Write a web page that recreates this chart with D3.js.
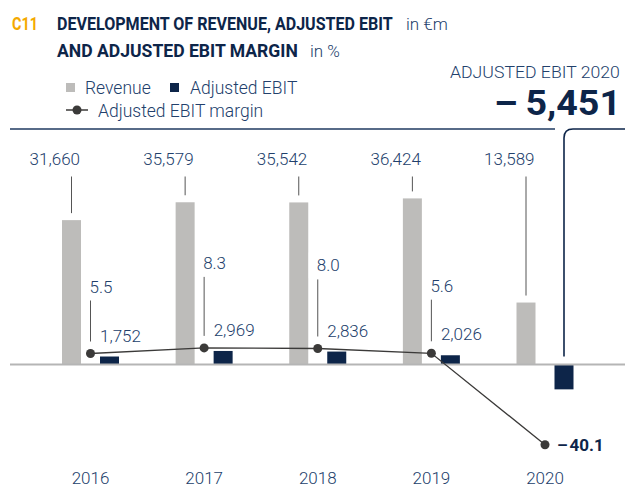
<!DOCTYPE html>
<html>
  <head>
    <meta charset="utf-8">
    <title>C11</title>
    <script src="https://d3js.org/d3.v7.min.js"></script>
    <style>
      body { margin: 0; background: #fff; font-family: Roboto, "Open Sans", sans-serif; }
      svg { display: block; }
    </style>
  </head>
  <body>
    <svg></svg>
    <script>
      // Data values
      var years = ["2016", "2017", "2018", "2019", "2020"];
      var revenue = [31660, 35579, 35542, 36424, 13589];
      var ebit = [1752, 2969, 2836, 2026, -5451];
      var margin = [5.5, 8.3, 8.0, 5.6, -40.1];

      var navy = "#0d2549", text = "#22406b", grey = "#bdbcba", dark = "#3b3a39";

      var svg = d3.select("svg")
        .attr("width", 625)
        .attr("height", 498);

      // Scales
      var x = d3.scalePoint().domain(years).range([90.5, 545]);
      var y = d3.scaleLinear().domain([-6000, 40000]).range([364.5 + 6000 * 0.00456, 364.5 - 40000 * 0.00456]);
      var ym = d3.scaleLinear().domain([-45, 10]).range([364.5 + 90, 364.5 - 20]);
      var bw = 19, off = 19;
      var fmt = d3.format(",");

      // text squeezed/stretched horizontally to a given width
      function fitText(x0, y0, width, size, weight, fill, str) {
        var t = svg.append("text")
          .attr("font-size", size).attr("font-weight", weight).attr("fill", fill)
          .text(str);
        var w = t.node().getComputedTextLength();
        t.attr("transform", "translate(" + x0 + "," + y0 + ") scale(" + (width / w) + ",1)");
        return t;
      }

      // Title
      fitText(12, 30, 26, 18, 700, "#f4a900", "C11");
      fitText(57, 30, 336, 18, 700, navy, "DEVELOPMENT OF REVENUE, ADJUSTED EBIT");
      svg.append("text").attr("x", 406).attr("y", 30)
        .attr("font-size", 17).attr("font-weight", 300).attr("fill", text).text("in €m");
      fitText(57, 57, 241, 18, 700, navy, "AND ADJUSTED EBIT MARGIN");
      svg.append("text").attr("x", 310).attr("y", 57)
        .attr("font-size", 17).attr("font-weight", 300).attr("fill", text).text("in %");

      // Legend
      var lg = svg.append("g").attr("font-size", 17.5).attr("fill", text).attr("font-weight", 300);
      lg.append("rect").attr("x", 66).attr("y", 83).attr("width", 9).attr("height", 9).attr("fill", grey);
      lg.append("text").attr("x", 85).attr("y", 93.5).text("Revenue");
      lg.append("rect").attr("x", 170).attr("y", 83).attr("width", 9).attr("height", 9).attr("fill", navy);
      lg.append("text").attr("x", 190).attr("y", 93.5).text("Adjusted EBIT");
      lg.append("line").attr("x1", 66).attr("x2", 88).attr("y1", 110).attr("y2", 110)
        .attr("stroke", dark).attr("stroke-width", 1.5);
      lg.append("circle").attr("cx", 77).attr("cy", 110).attr("r", 4.5).attr("fill", dark);
      lg.append("text").attr("x", 98).attr("y", 116.5).text("Adjusted EBIT margin");

      // Callout top right
      fitText(450, 78, 170, 16.5, 300, text, "ADJUSTED EBIT 2020");
      fitText(494, 115, 127, 35, 700, navy, "–\u2009" + fmt(Math.abs(ebit[4])));

      svg.append("line").attr("x1", 10).attr("x2", 555).attr("y1", 129).attr("y2", 129)
        .attr("stroke", "#1f3a60").attr("stroke-width", 1.6);
      var bx = x("2020") + off;
      svg.append("path")
        .attr("d", "M" + bx + "," + (y(0) - 8) + "V138Q" + bx + ",129 " + (bx + 9) + ",129H625")
        .attr("fill", "none").attr("stroke", navy).attr("stroke-width", 1.6);

      // Revenue bars
      svg.selectAll(".rev").data(revenue).enter().append("rect")
        .attr("x", function(d, i) { return x(years[i]) - off - bw / 2; })
        .attr("y", function(d) { return y(d); })
        .attr("width", bw)
        .attr("height", function(d) { return y(0) - y(d); })
        .attr("fill", grey);

      // Revenue labels + leaders
      svg.selectAll(".revl").data(revenue).enter().append("line")
        .attr("x1", function(d, i) { return x(years[i]) - off; })
        .attr("x2", function(d, i) { return x(years[i]) - off; })
        .attr("y1", 176.5)
        .attr("y2", function(d) { return y(d) - 7; })
        .attr("stroke", "#555").attr("stroke-width", 1);
      svg.selectAll(".revt").data(revenue).enter().append("text")
        .attr("x", function(d, i) { return x(years[i]) - off + bw / 2 - 1; })
        .attr("y", 165)
        .attr("text-anchor", "end")
        .attr("font-size", 17).attr("font-weight", 300).attr("fill", text)
        .text(function(d) { return fmt(d); });

      // EBIT bars
      svg.selectAll(".ebit").data(ebit).enter().append("rect")
        .attr("x", function(d, i) { return x(years[i]) + off - bw / 2; })
        .attr("y", function(d) { return y(Math.max(0, d)); })
        .attr("width", bw)
        .attr("height", function(d) { return Math.abs(y(0) - y(d)); })
        .attr("fill", navy);
      svg.selectAll(".ebitt").data(ebit.slice(0, 4)).enter().append("text")
        .attr("x", function(d, i) { return x(years[i]) + off - bw / 2; })
        .attr("y", function(d) { return y(d) - 15; })
        .attr("font-size", 17).attr("font-weight", 300).attr("fill", text)
        .text(function(d) { return fmt(d); });

      // Zero line
      svg.append("line").attr("x1", 10).attr("x2", 625).attr("y1", y(0)).attr("y2", y(0))
        .attr("stroke", "#b5b5b5").attr("stroke-width", 2);

      // Margin labels (first four) with leader lines
      var lift = d3.scaleLinear().domain([5.5, 8.3]).range([67, 85]);
      var ml = svg.selectAll(".ml").data(margin.slice(0, 4)).enter().append("g")
        .attr("transform", function(d, i) { return "translate(" + x(years[i]) + "," + (ym(d) - lift(d)) + ")"; });
      ml.append("rect").attr("x", -9).attr("y", -13).attr("width", 36).attr("height", 26).attr("fill", "#fff");
      ml.append("text").attr("x", -1).attr("y", 6)
        .attr("font-size", 17).attr("font-weight", 300).attr("fill", text)
        .text(function(d) { return d3.format(".1f")(d); });
      ml.append("line").attr("x1", 0).attr("x2", 0).attr("y1", 14)
        .attr("y2", function(d) { return lift(d) - 12; })
        .attr("stroke", "#555").attr("stroke-width", 1);

      // Margin line
      var line = d3.line()
        .x(function(d, i) { return x(years[i]); })
        .y(function(d) { return ym(d); });
      svg.append("path").datum(margin).attr("d", line)
        .attr("fill", "none").attr("stroke", dark).attr("stroke-width", 1.3);
      svg.selectAll(".dot").data(margin).enter().append("circle")
        .attr("cx", function(d, i) { return x(years[i]); })
        .attr("cy", function(d) { return ym(d); })
        .attr("r", 4.5).attr("fill", dark);
      svg.append("text").attr("x", x("2020") + 12).attr("y", ym(margin[4]) + 6)
        .attr("font-size", 17).attr("font-weight", 700).attr("fill", navy)
        .text("–\u200a" + Math.abs(margin[4]).toFixed(1));

      // Year axis labels
      svg.selectAll(".yr").data(years).enter().append("text")
        .attr("x", function(d) { return x(d); })
        .attr("y", 484)
        .attr("text-anchor", "middle")
        .attr("font-size", 17).attr("font-weight", 300).attr("fill", text)
        .text(function(d) { return d; });
    </script>
  </body>
</html>
